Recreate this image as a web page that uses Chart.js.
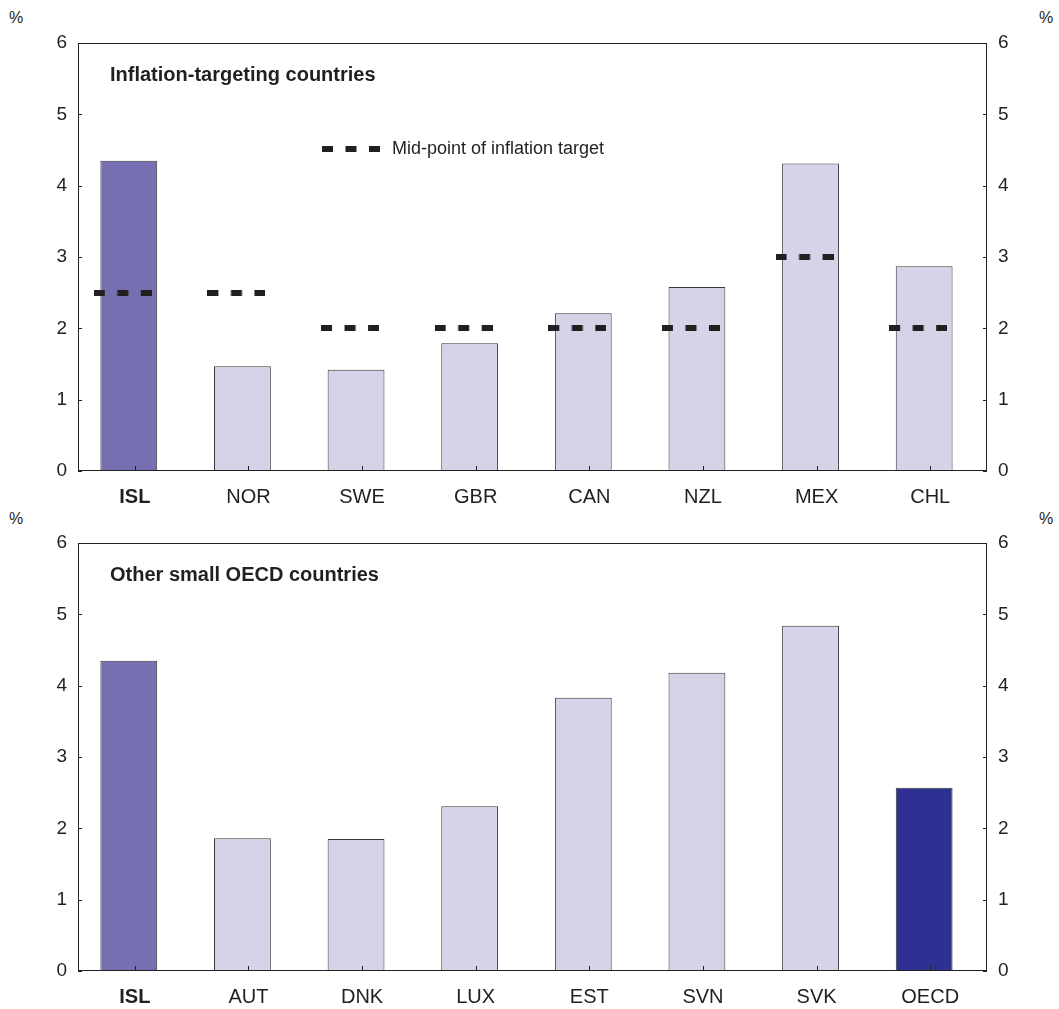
<!DOCTYPE html>
<html><head><meta charset="utf-8">
<script src="https://cdn.jsdelivr.net/npm/chart.js@4.4.1/dist/chart.umd.min.js"></script>
<style>
html,body{margin:0;padding:0;background:#fff}
body{width:1059px;height:1009px;overflow:hidden;position:relative;font-family:"Liberation Sans",Arial,sans-serif;color:#231F20}
.pct{position:absolute;font-size:16px;line-height:16px;color:#231F20}
canvas{position:absolute;left:0}
</style></head><body>
<div class="pct" style="left:9px;top:10px">%</div>
<div class="pct" style="left:1039px;top:10px">%</div>
<div class="pct" style="left:9px;top:511px">%</div>
<div class="pct" style="left:1039px;top:511px">%</div>
<canvas id="c1" width="1059" height="510" style="top:0"></canvas>
<canvas id="c2" width="1059" height="499" style="top:510px"></canvas>
<script>
// ---- data ----
const topCategories = ['ISL','NOR','SWE','GBR','CAN','NZL','MEX','CHL'];
const topValues = [4.35,1.47,1.42,1.79,2.21,2.58,4.31,2.87];
const targetMidpoints = [2.5,2.5,2,2,2,2,3,2];
const bottomCategories = ['ISL','AUT','DNK','LUX','EST','SVN','SVK','OECD'];
const bottomValues = [4.35,1.86,1.85,2.31,3.83,4.18,4.84,2.57];
const yTicks = [0,1,2,3,4,5,6];
const topTitle = 'Inflation-targeting countries';
const bottomTitle = 'Other small OECD countries';
const legendLabel = 'Mid-point of inflation target';

// ---- styles ----
const FONT = '"Liberation Sans", Arial, sans-serif';
const TXT = '#231F20';
const ISL_COL = '#7670B2';
const LIGHT_COL = '#D6D3E8';
const OECD_COL = '#2E3192';

function dashImage(){
  const c = document.createElement('canvas');
  c.width = 58; c.height = 6;
  const g = c.getContext('2d');
  g.fillStyle = TXT;
  g.fillRect(0,0,11,6); g.fillRect(23.5,0,11,6); g.fillRect(47,0,11,6);
  return c;
}
const DASH = dashImage();

const decor = {
  id:'decor',
  afterDatasetsDraw(chart, args, opts){
    const {ctx, chartArea:a, scales} = chart;
    ctx.save();
    ctx.strokeStyle = TXT; ctx.lineWidth = 1;
    ctx.strokeRect(Math.round(a.left)+0.5, Math.round(a.top)+0.5, Math.round(a.right-a.left)-1, Math.round(a.bottom-a.top)-1);
    ctx.beginPath();
    scales.y.ticks.forEach(t=>{
      const py = Math.round(scales.y.getPixelForValue(t.value))+0.5;
      ctx.moveTo(a.left, py); ctx.lineTo(a.left+4, py);
      ctx.moveTo(a.right-4, py); ctx.lineTo(a.right, py);
    });
    scales.x.ticks.forEach((t,i)=>{
      const px = Math.round(scales.x.getPixelForTick(i))+0.5;
      ctx.moveTo(px, a.bottom); ctx.lineTo(px, a.bottom-5);
    });
    ctx.stroke();
    ctx.fillStyle = TXT;
    ctx.textBaseline = 'middle';
    ctx.font = 'bold 20px ' + FONT;
    ctx.fillText(opts.title, a.left+32, a.top+32);
    if (opts.legend){
      ctx.drawImage(DASH, a.left+244, a.top+103);
      ctx.font = '18px ' + FONT;
      ctx.fillText(opts.legend, a.left+314, a.top+106);
    }
    ctx.restore();
  }
};

function makeChart(id, cats, vals, targets, title, legend, colors, padTop, xHeight){
  const datasets = [{
    type:'bar',
    data: vals.map((v,i)=>({x:i, y:v})),
    xAxisID:'xb', yAxisID:'y',
    backgroundColor: colors,
    borderColor:'#3A3839', borderWidth:1,
    barPercentage:0.5, categoryPercentage:1.0,
    grouped:false,
    order:2
  }];
  if (targets){
    datasets.push({
      type:'line',
      data: targets.map((v,i)=>({x:i, y:v})),
      xAxisID:'xd', yAxisID:'y',
      showLine:false,
      pointStyle: DASH,
      order:1
    });
  }
  const indexTicks = s=>{ s.ticks = cats.map((c,i)=>({value:i})); };
  const yCommon = (w)=>({
    min:0, max:6,
    afterBuildTicks: s=>{ s.ticks = yTicks.map(v=>({value:v})); },
    ticks:{padding:11, color:TXT, font:{family:FONT, size:19}},
    grid:{display:false, drawTicks:false},
    border:{display:false},
    afterFit: s=>{ s.width = w; }
  });
  return new Chart(document.getElementById(id), {
    type:'bar',
    data:{ labels: cats, datasets },
    options:{
      responsive:false, animation:false, events:[],
      layout:{padding:{top:padTop, left:0, right:0, bottom:0}},
      plugins:{legend:{display:false}, tooltip:{enabled:false}, decor:{title, legend}},
      scales:{
        x:{type:'category', labels:cats, offset:true, position:'bottom',
           grid:{display:false, drawTicks:false}, border:{display:false},
           ticks:{padding:14, color:TXT, autoSkip:false, maxRotation:0,
             font: c=>({family:FONT, size:20, weight: c.index===0 ? 'bold' : 'normal'})},
           afterFit: s=>{ s.height = xHeight; }},
        xb:{type:'linear', display:false, offset:false, grid:{offset:false}, min:-0.447, max:7.553, afterBuildTicks:indexTicks},
        xd:{type:'linear', display:false, offset:false, grid:{offset:false}, min:-0.394, max:7.606, afterBuildTicks:indexTicks},
        y: Object.assign({position:'left'}, yCommon(78)),
        y2: Object.assign({position:'right'}, yCommon(72))
      }
    },
    plugins:[decor]
  });
}

const topColors = topCategories.map(c=> c==='ISL' ? ISL_COL : LIGHT_COL);
const bottomColors = bottomCategories.map(c=> c==='ISL' ? ISL_COL : (c==='OECD' ? OECD_COL : LIGHT_COL));
makeChart('c1', topCategories, topValues, targetMidpoints, topTitle, legendLabel, topColors, 43, 39);
makeChart('c2', bottomCategories, bottomValues, null, bottomTitle, null, bottomColors, 33, 38);
</script>
</body></html>
